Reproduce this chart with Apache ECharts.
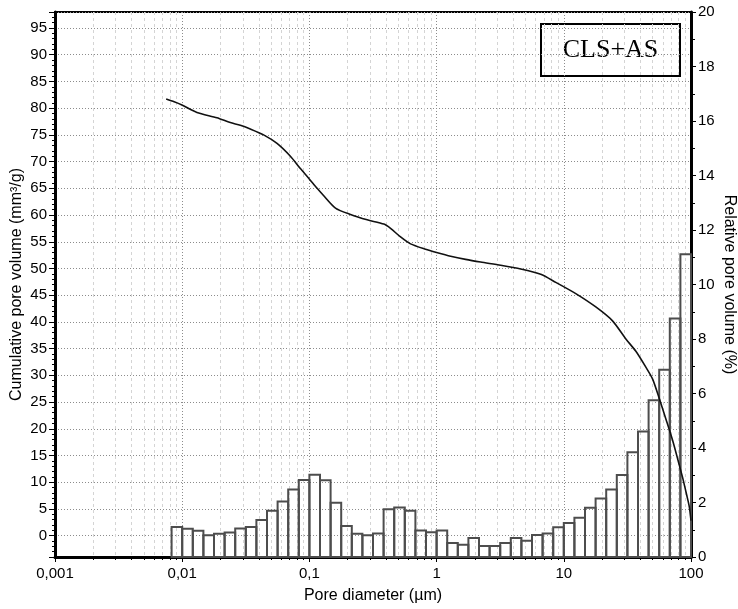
<!DOCTYPE html>
<html>
<head>
<meta charset="utf-8">
<script src="https://cdn.jsdelivr.net/npm/echarts@6/dist/echarts.min.js"></script>
<style>
  html, body { margin: 0; padding: 0; background: #fff; }
  #chart { width: 738px; height: 609px; }
</style>
</head>
<body>
<div id="chart"></div>
<script>
// Pore diameter axis labels, one per decade from 10^-3 to 10^2 (µm)
const xTickLabels = ['0,001', '0,01', '0,1', '1', '10', '100'];

// Histogram bins: 12 bins per decade, first bin starts at 10^(-25/12) µm
const binsPerDecade = 12;
const firstBinIndex = -25;

// Relative pore volume per bin (%)
const relativeVolume = [
  1.10, 1.04, 0.96, 0.80, 0.85, 0.90, 1.05, 1.10, 1.36, 1.70, 2.04, 2.48,
  2.83, 3.02, 2.82, 1.99, 1.14, 0.85, 0.80, 0.86, 1.75, 1.82, 1.70, 0.97,
  0.91, 0.97, 0.51, 0.45, 0.70, 0.40, 0.40, 0.51, 0.70, 0.60, 0.81, 0.86,
  1.09, 1.25, 1.44, 1.81, 2.15, 2.48, 3.01, 3.84, 4.61, 5.75, 6.87, 8.75,
  11.11
];

// Cumulative pore volume curve: diameter (µm) and volume (mm³/g)
const curveDiameter = [
  0.00748, 0.00865, 0.00995, 0.01306, 0.01876, 0.02387, 0.02862, 0.0343,
  0.04365, 0.05566, 0.07088, 0.08492, 0.09867, 0.1150, 0.1297, 0.1603,
  0.2104, 0.2847, 0.3846, 0.4343, 0.5207, 0.6240, 0.8190, 1.0, 1.289,
  1.690, 2.219, 3.190, 4.583, 6.586, 8.65, 12.42, 17.85, 24.16, 30.76,
  36.87, 44.24, 49.93, 56.26, 63.53, 71.74, 80.9, 86.03, 92.49, 97.0, 100
];
const curveVolume = [
  81.7, 81.2, 80.6, 79.2, 78.2, 77.3, 76.8, 76.1,
  75.0, 73.4, 71.0, 68.7, 66.9, 65.0, 63.6, 61.3,
  60.1, 59.1, 58.3, 57.5, 55.9, 54.6, 53.6, 53.0, 52.3,
  51.7, 51.2, 50.6, 49.9, 48.9, 47.4, 45.3, 42.8, 40.2, 36.8,
  34.5, 31.5, 29.3, 25.7, 21.8, 17.8, 13.2, 10.8, 7.6, 5.4, 2.8
];

const binData = relativeVolume.map(function (v, i) {
  const k = firstBinIndex + i;
  return [Math.pow(10, k / binsPerDecade), Math.pow(10, (k + 1) / binsPerDecade), v];
});
const curveData = curveDiameter.map(function (d, i) { return [d, curveVolume[i]]; });

const FONT = 'Liberation Sans, Arial, sans-serif';
const gridDot = { color: '#8c8c8c', width: 1, type: [1, 2] };

const chart = echarts.init(document.getElementById('chart'), null, { renderer: 'canvas' });
chart.setOption({
  animation: false,
  backgroundColor: '#fff',
  grid: {
    left: 55, top: 12, width: 636, height: 545,
    containLabel: false, outerBoundsMode: 'none',
    show: true, borderColor: '#000', borderWidth: 2, backgroundColor: 'transparent'
  },
  xAxis: {
    type: 'log', logBase: 10, min: 0.001, max: 100,
    name: 'Pore diameter (µm)', nameLocation: 'middle', nameGap: 31, nameMoveOverlap: false,
    nameTextStyle: { fontFamily: FONT, fontSize: 16, color: '#000' },
    axisLine: { show: true, onZero: false, lineStyle: { color: '#000', width: 3 } },
    axisTick: { show: true, inside: false, length: 5, lineStyle: { color: '#000', width: 1 } },
    minorTick: { show: true, splitNumber: 9, length: 3, lineStyle: { color: '#000', width: 1 } },
    axisLabel: {
      fontFamily: FONT, fontSize: 15, color: '#000', margin: 9,
      formatter: function (v) {
        const e = Math.round(Math.log10(v));
        return xTickLabels[e + 3] || '';
      }
    },
    splitLine: { show: true, lineStyle: gridDot },
    minorSplitLine: { show: true, lineStyle: { color: '#d4d4d4', width: 1, type: [3, 3] } }
  },
  yAxis: [
    {
      type: 'value', position: 'left', min: -4, max: 98,
      splitNumber: 20, minInterval: 5, maxInterval: 5,
      name: 'Cumulative pore volume (mm³/g)', nameLocation: 'middle', nameGap: 30, nameMoveOverlap: false,
      nameTextStyle: { fontFamily: FONT, fontSize: 16, color: '#000' },
      axisLine: { show: true, lineStyle: { color: '#000', width: 3 } },
      axisTick: { show: true, inside: false, length: 6, lineStyle: { color: '#000', width: 1 } },
      minorTick: { show: true, splitNumber: 5, length: 3, lineStyle: { color: '#000', width: 1 } },
      axisLabel: {
        fontFamily: FONT, fontSize: 15, color: '#000', margin: 8,
        formatter: function (v) { return (Math.abs(v % 5) < 1e-9) ? String(Math.round(v)) : ''; }
      },
      splitLine: { show: true, lineStyle: gridDot },
      minorSplitLine: { show: false }
    },
    {
      type: 'value', position: 'right', min: 0, max: 20, interval: 2,
      name: 'Relative pore volume (%)', nameLocation: 'middle', nameGap: 30, nameRotate: -90, nameMoveOverlap: false,
      nameTextStyle: { fontFamily: FONT, fontSize: 16, color: '#000' },
      axisLine: { show: true, lineStyle: { color: '#000', width: 3 } },
      axisTick: { show: true, inside: false, length: 5, lineStyle: { color: '#000', width: 1 } },
      minorTick: { show: true, splitNumber: 2, length: 4, lineStyle: { color: '#000', width: 1 } },
      axisLabel: { fontFamily: FONT, fontSize: 15, color: '#000', margin: 7 },
      splitLine: { show: false }
    }
  ],
  graphic: [
    {
      type: 'group', left: 540, top: 23, z: 100,
      children: [
        { type: 'rect', shape: { x: 0, y: 0, width: 139, height: 52 },
          style: { fill: '#fff', stroke: '#000', lineWidth: 2 } },
        { type: 'text', x: 69.5, y: 26,
          style: { text: 'CLS+AS', fontFamily: 'Liberation Serif, Times New Roman, serif',
                   fontSize: 26, fill: '#000', align: 'center', verticalAlign: 'middle' } }
      ]
    }
  ],
  series: [
    {
      name: 'Relative pore volume',
      type: 'custom', xAxisIndex: 0, yAxisIndex: 1,
      data: binData, encode: { x: [0, 1], y: 2 },
      silent: true, z: 3,
      renderItem: function (params, api) {
        const base = api.coord([api.value(0), 0]);
        const top = api.coord([api.value(1), api.value(2)]);
        return {
          type: 'rect',
          shape: { x: base[0], y: top[1], width: top[0] - base[0], height: base[1] - top[1] },
          style: { fill: 'none', stroke: '#4d4d4d', lineWidth: 2 }
        };
      }
    },
    {
      name: 'Cumulative pore volume',
      type: 'line', xAxisIndex: 0, yAxisIndex: 0,
      data: curveData, showSymbol: false, symbol: 'none', smooth: 0.25,
      lineStyle: { color: '#111', width: 1.6 }, z: 4, silent: true
    }
  ]
});
</script>
</body>
</html>
